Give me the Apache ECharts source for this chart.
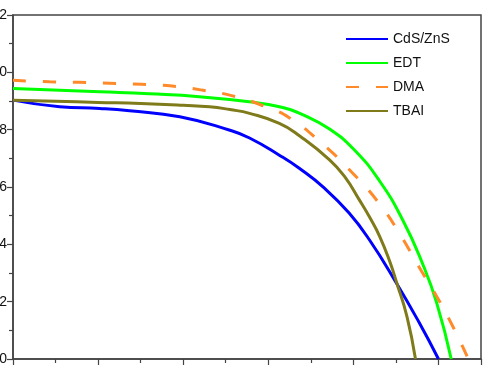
<!DOCTYPE html>
<html>
<head>
<meta charset="utf-8">
<script src="https://cdn.jsdelivr.net/npm/echarts@6/dist/echarts.min.js"></script>
<style>
  html, body { margin: 0; padding: 0; background: #fff; }
  #chart { width: 485px; height: 369px; }
</style>
</head>
<body>
<div id="chart"></div>
<script>
// J-V curves, voltage (V) vs current density
const seriesNames = ['CdS/ZnS', 'EDT', 'DMA', 'TBAI'];
const seriesColors = ['#0000ff', '#00ff00', '#ff8a2a', '#7f7a1a'];

const cdsX = [0, 0.055, 0.102, 0.137, 0.196, 0.254, 0.278, 0.313, 0.336, 0.366, 0.395, 0.419, 0.450, 0.477, 0.500];
const cdsY = [9.03, 8.80, 8.74, 8.66, 8.45, 7.99, 7.71, 7.11, 6.66, 5.96, 5.09, 4.15, 2.68, 1.29, 0];

const edtX = [0, 0.102, 0.160, 0.219, 0.278, 0.313, 0.343, 0.372, 0.401, 0.431, 0.458, 0.481, 0.498, 0.515];
const edtY = [9.44, 9.32, 9.25, 9.15, 8.97, 8.80, 8.49, 8.02, 7.30, 6.20, 4.85, 3.35, 1.95, 0];

const dmaX = [0, 0.043, 0.078, 0.113, 0.151, 0.187, 0.222, 0.258, 0.295, 0.325, 0.363, 0.399, 0.430, 0.454, 0.477, 0.499, 0.519, 0.535];
const dmaY = [9.72, 9.67, 9.65, 9.62, 9.58, 9.52, 9.38, 9.18, 8.82, 8.41, 7.52, 6.49, 5.44, 4.39, 3.22, 2.13, 1.01, 0];

const tbaiX = [0, 0.05, 0.10, 0.15, 0.20, 0.231, 0.255, 0.278, 0.313, 0.337, 0.372, 0.390, 0.407, 0.419, 0.431, 0.443, 0.451, 0.463, 0.473];
const tbaiY = [9.03, 8.99, 8.95, 8.91, 8.85, 8.80, 8.70, 8.57, 8.22, 7.78, 6.95, 6.35, 5.55, 4.95, 4.27, 3.38, 2.65, 1.48, 0];

const yTicks = [0, 2, 4, 6, 8, 10, 12];

function zip(xs, ys) {
  return xs.map((x, i) => [x, ys[i]]);
}

const allData = [zip(cdsX, cdsY), zip(edtX, edtY), zip(dmaX, dmaY), zip(tbaiX, tbaiY)];

const chart = echarts.init(document.getElementById('chart'));

const axisColor = '#444';

chart.setOption({
  animation: false,
  textStyle: { fontFamily: 'Liberation Sans, Arial, sans-serif' },
  grid: {
    left: 13, right: 4, top: 15, bottom: 10,
    outerBoundsMode: 'none',
    containLabel: false,
    show: true, borderColor: axisColor, borderWidth: 1.5
  },
  legend: {
    orient: 'vertical',
    left: 340,
    top: 27,
    itemWidth: 42,
    itemHeight: 14,
    itemGap: 10,
    itemStyle: { opacity: 0 },
    textStyle: { fontSize: 14, color: '#111' },
    data: seriesNames
  },
  xAxis: {
    type: 'value',
    min: 0,
    max: 0.55,
    interval: 0.1,
    axisLine: { lineStyle: { color: axisColor, width: 1.5 } },
    axisTick: { inside: false, length: 6, lineStyle: { color: axisColor, width: 1.2 } },
    minorTick: { show: true, splitNumber: 2, length: 4, lineStyle: { color: axisColor, width: 1.2 } },
    axisLabel: { show: false },
    splitLine: { show: false }
  },
  yAxis: {
    type: 'value',
    min: yTicks[0],
    max: yTicks[yTicks.length - 1],
    interval: 2,
    axisLine: { show: true, lineStyle: { color: axisColor, width: 1.5 } },
    axisTick: { show: true, inside: false, length: 6, lineStyle: { color: axisColor, width: 1.2 } },
    minorTick: { show: true, splitNumber: 2, length: 4, lineStyle: { color: axisColor, width: 1.2 } },
    axisLabel: { fontSize: 14, color: '#111', margin: 6 },
    splitLine: { show: false }
  },
  series: seriesNames.map((name, i) => ({
    name: name,
    type: 'line',
    data: allData[i],
    symbol: 'none',
    showSymbol: false,
    smooth: 0.5,
    z: i === 2 ? 3 : 2,
    color: seriesColors[i],
    lineStyle: {
      width: 3,
      color: seriesColors[i],
      type: i === 2 ? [13, 17] : 'solid'
    }
  }))
});
</script>
</body>
</html>
